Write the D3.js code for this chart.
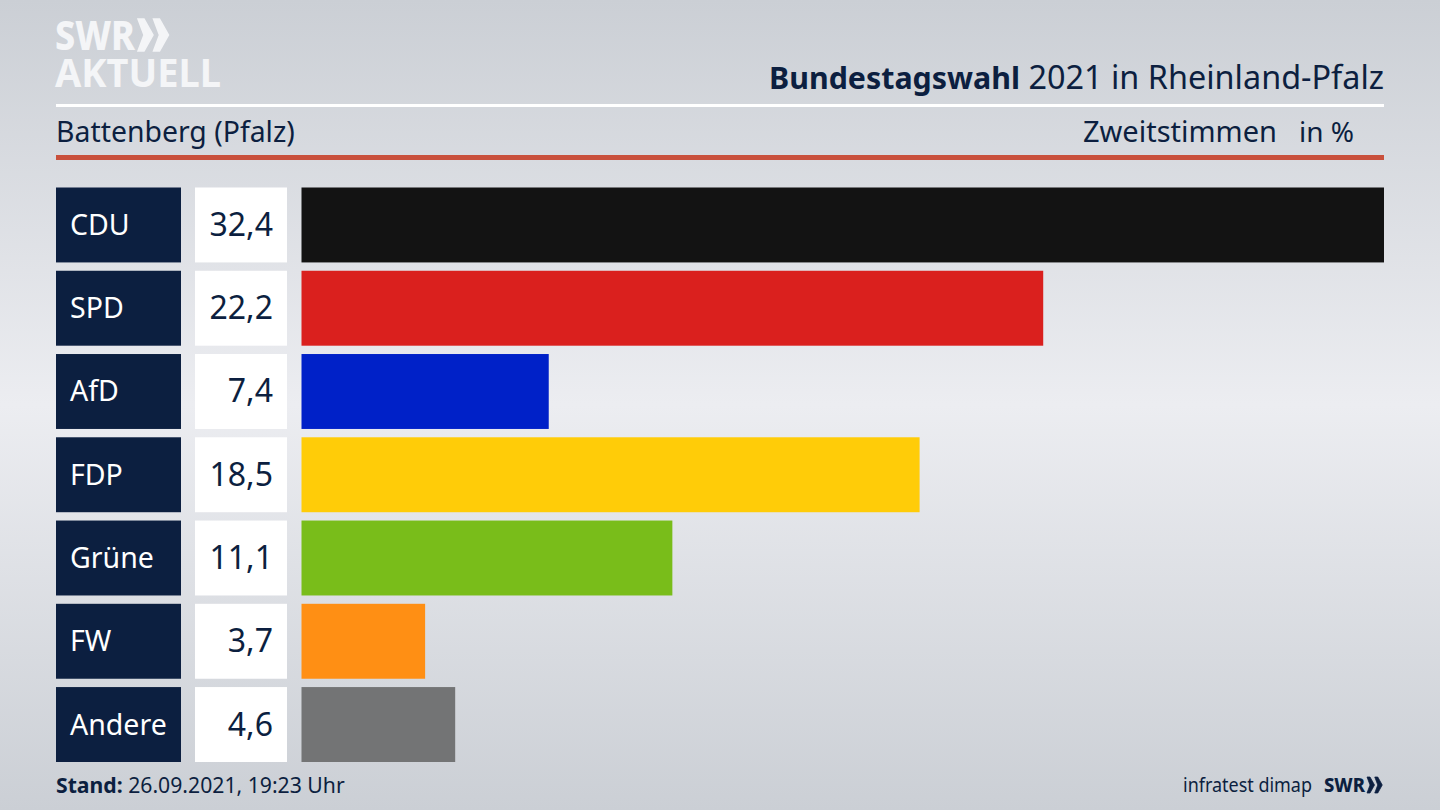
<!DOCTYPE html>
<html>
<head>
<meta charset="utf-8">
<script src="https://cdn.jsdelivr.net/npm/d3@7"></script>
<style>
  html, body { margin: 0; padding: 0; background: #d8dbe0; overflow: hidden; }
  text { font-family: "Noto Sans", sans-serif; }
</style>
</head>
<body>
<div id="root"></div>
<script>
const parties = ["CDU", "SPD", "AfD", "FDP", "Grüne", "FW", "Andere"];
const shares = [32.4, 22.2, 7.4, 18.5, 11.1, 3.7, 4.6];
const partyColors = ["#131313", "#da201e", "#0021c8", "#ffcc08", "#79bd1a", "#ff8f14", "#737475"];

const w = 1440, h = 810;
const navy = "#0c1f40";
const fmt = v => v.toFixed(1).replace(".", ",");

const svg = d3.select("#root").append("svg")
  .attr("width", w)
  .attr("height", h)
  .style("display", "block");

const defs = svg.append("defs");
const bg = defs.append("linearGradient")
  .attr("id", "bg")
  .attr("x1", 0).attr("y1", 0).attr("x2", 0).attr("y2", 1);
bg.append("stop").attr("offset", "0%").attr("stop-color", "#cbcfd5");
bg.append("stop").attr("offset", "50%").attr("stop-color", "#ecedf1");
bg.append("stop").attr("offset", "100%").attr("stop-color", "#cbcfd5");

svg.append("rect").attr("width", w).attr("height", h).attr("fill", "url(#bg)");

// scales
const x = d3.scaleLinear().domain([0, 32.4]).range([301.5, 1384]);
const y = d3.scaleBand().domain(parties).range([187.5, 762]).paddingInner(0.1);

// header
svg.append("rect").attr("x", 56).attr("y", 104).attr("width", 1328).attr("height", 3).attr("fill", "#fff");
svg.append("rect").attr("x", 56).attr("y", 155).attr("width", 1328).attr("height", 5).attr("fill", "#c9503c");

svg.append("text").attr("x", 769).attr("y", 89)
  .attr("font-size", 31).attr("font-weight", 700).attr("fill", navy)
  .attr("textLength", 251).attr("lengthAdjust", "spacingAndGlyphs")
  .text("Bundestagswahl");
svg.append("text").attr("x", 1384).attr("y", 89).attr("text-anchor", "end")
  .attr("font-size", 32.4).attr("fill", navy)
  .text("2021 in Rheinland-Pfalz");

svg.append("text").attr("x", 56).attr("y", 142)
  .attr("font-size", 28.4).attr("fill", navy).text("Battenberg (Pfalz)");
svg.append("text").attr("x", 1277).attr("y", 142).attr("text-anchor", "end")
  .attr("font-size", 29).attr("fill", navy).text("Zweitstimmen");
svg.append("text").attr("x", 1354).attr("y", 142).attr("text-anchor", "end")
  .attr("font-size", 28).attr("fill", navy).text("in %");

// logo top left
function chevrons(g, px, py, s, fill) {
  [0, 1].forEach(i => {
    const ox = px + i * 15.5 * s;
    g.append("path")
      .attr("d", `M${ox} ${py}L${ox + 6 * s} ${py}L${ox + 15 * s} ${py + 16 * s}L${ox + 6 * s} ${py + 32 * s}L${ox} ${py + 32 * s}L${ox + 6 * s} ${py + 16 * s}Z`)
      .attr("stroke", fill).attr("stroke-width", 1.5 * s)
      .attr("fill", fill);
  });
}
const logo = svg.append("g");
logo.append("text").attr("x", 55).attr("y", 50)
  .attr("font-size", 41).attr("font-weight", 800).attr("fill", "#f4f5f7")
  .attr("textLength", 80).attr("lengthAdjust", "spacingAndGlyphs").text("SWR");
chevrons(logo, 138, 19, 1, "#f4f5f7");
logo.append("text").attr("x", 55).attr("y", 87)
  .attr("font-size", 40).attr("font-weight", 700).attr("fill", "#f4f5f7")
  .attr("textLength", 166).attr("lengthAdjust", "spacingAndGlyphs").text("AKTUELL");

// rows
const labelBox = svg.append("g");
labelBox.selectAll("rect").data(parties).enter().append("rect")
  .attr("x", 56).attr("y", d => y(d))
  .attr("width", 125).attr("height", y.bandwidth())
  .attr("fill", navy);
labelBox.selectAll("text").data(parties).enter().append("text")
  .attr("x", 70).attr("y", d => y(d) + y.bandwidth() / 2 + 10)
  .attr("font-size", 28.5).attr("fill", "#fff")
  .text(d => d);

const valueBox = svg.append("g");
valueBox.selectAll("rect").data(parties).enter().append("rect")
  .attr("x", 195).attr("y", d => y(d))
  .attr("width", 92).attr("height", y.bandwidth())
  .attr("fill", "#fff");
valueBox.selectAll("text").data(shares).enter().append("text")
  .attr("x", 273).attr("y", (d, i) => y(parties[i]) + y.bandwidth() / 2 + 11)
  .attr("text-anchor", "end")
  .attr("font-size", 32).attr("fill", navy)
  .text(fmt);

svg.append("g").selectAll("rect").data(shares).enter().append("rect")
  .attr("x", x(0))
  .attr("y", (d, i) => y(parties[i]))
  .attr("width", d => x(d) - x(0))
  .attr("height", y.bandwidth())
  .attr("fill", (d, i) => partyColors[i]);

// footer
const stand = svg.append("text").attr("x", 56).attr("y", 793)
  .attr("font-size", 21.2).attr("fill", navy);
stand.append("tspan").attr("font-weight", 700).text("Stand:");
stand.append("tspan").text(" 26.09.2021, 19:23 Uhr");

svg.append("text").attr("x", 1312).attr("y", 792).attr("text-anchor", "end")
  .attr("font-size", 19.5).attr("fill", navy)
  .attr("textLength", 129).attr("lengthAdjust", "spacingAndGlyphs").text("infratest dimap");
svg.append("text").attr("x", 1324).attr("y", 792)
  .attr("font-size", 20).attr("font-weight", 800).attr("fill", navy)
  .attr("textLength", 41).attr("lengthAdjust", "spacingAndGlyphs").text("SWR");
chevrons(svg.append("g"), 1367, 777, 0.5, navy);
</script>
</body>
</html>
